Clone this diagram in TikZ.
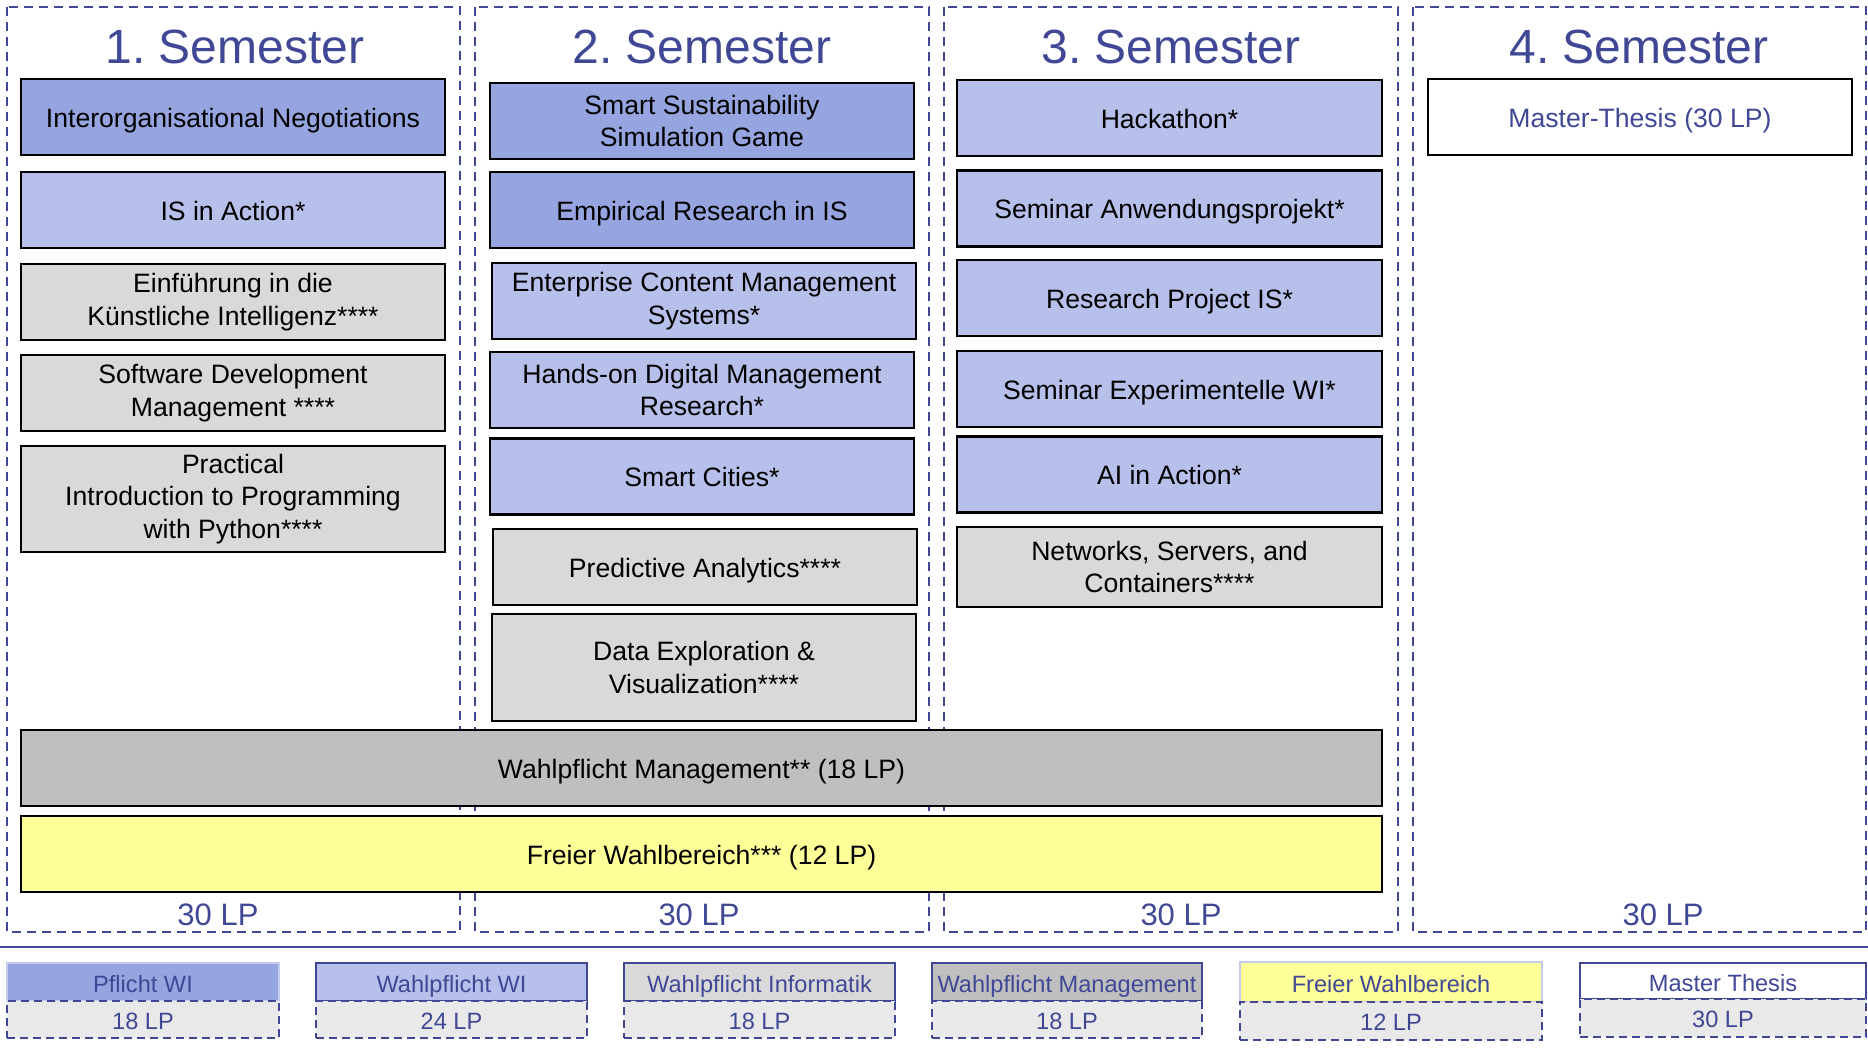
\documentclass[tikz,border=0pt]{standalone}
\usepackage{fontspec}
\setmainfont{Liberation Sans}
\frenchspacing
\definecolor{pblue}{HTML}{96A5E0}
\definecolor{wblue}{HTML}{B6C0EA}
\definecolor{igray}{HTML}{D9D9D9}
\definecolor{mgray}{HTML}{BFBFBF}
\definecolor{fyellow}{HTML}{FFFF99}
\definecolor{tblue}{HTML}{404896}
\definecolor{lgray}{HTML}{E9E9E9}
\definecolor{pborder}{HTML}{C4CCEE}
\newcommand\coursefont{\fontsize{13.3pt}{16.4pt}\selectfont}
\newcommand\titlefont{\fontsize{24pt}{28pt}\selectfont}
\newcommand\lpfont{\fontsize{15.5pt}{18pt}\selectfont}
\newcommand\legfont{\fontsize{11.8pt}{14pt}\selectfont}
\tikzset{
  semframe/.style={draw=tblue, line width=1pt, dash pattern=on 4.5pt off 3pt},
  course/.style={draw=black, line width=1.1pt, inner sep=0pt, align=center,
    font=\coursefont, text=black, minimum width=212pt, minimum height=38pt},
  oneline/.style={text height=10.2pt, text depth=0pt},
  pflicht/.style={course, fill=pblue},
  wahlwi/.style={course, fill=wblue},
  inform/.style={course, fill=igray},
  semtitle/.style={font=\titlefont, text=tblue, anchor=base, inner sep=0pt},
  lplabel/.style={font=\lpfont, text=tblue, anchor=base, inner sep=0pt},
  legtop/.style={draw=tblue, line width=0.9pt, inner sep=0pt, font=\legfont,
    text=tblue, minimum width=136pt, minimum height=19pt, text height=10.5pt, text depth=0pt},
  legbot/.style={draw=tblue, fill=lgray, line width=0.9pt, dash pattern=on 4pt off 2.5pt,
    inner sep=0pt, font=\legfont, text=tblue, minimum width=136pt, minimum height=18.5pt,
    text height=9.5pt, text depth=0pt},
}
\begin{document}
\begin{tikzpicture}[x=0.5pt, y=-0.5pt]
\useasboundingbox (0,0) rectangle (1868,1049);
% semester frames
\draw[semframe] (7,7) rectangle (460,932);
\draw[semframe] (475,7) rectangle (929,932);
\draw[semframe] (944,7) rectangle (1398,932);
\draw[semframe] (1413,7) rectangle (1866,932);
% titles
\node[semtitle] (t1) at (235,63) {1. Semester};
\node[semtitle] (t2) at (702,63) {2. Semester};
\node[semtitle] (t3) at (1171,63) {3. Semester};
\node[semtitle] (t4) at (1639,63) {4. Semester};
% column 1
\node[pflicht, oneline] (c11) at (233,117) {Interorganisational Negotiations};
\node[wahlwi, oneline] (c12) at (233,210) {IS in Action*};
\node[inform] (c13) at (233,302) {Einführung in die\\Künstliche Intelligenz****};
\node[inform] (c14) at (233,393) {Software Development\\Management ****};
\node[inform, minimum height=53pt] (c15) at (233,499) {Practical\\Introduction to Programming\\with Python****};
% column 2
\node[pflicht] (c21) at (702,121) {Smart Sustainability\\Simulation Game};
\node[pflicht, oneline] (c22) at (702,210) {Empirical Research in IS};
\node[wahlwi] (c23) at (704,301) {Enterprise Content Management\\Systems*};
\node[wahlwi] (c24) at (702,390) {Hands-on Digital Management\\Research*};
\node[wahlwi, oneline] (c25) at (702,476.5) {Smart Cities*};
\node[inform, oneline] (c26) at (705,567) {Predictive Analytics****};
\node[inform, minimum height=53.5pt] (c27) at (704,667.5) {Data Exploration \&\\Visualization****};
% column 3
\node[wahlwi, oneline, minimum width=212.5pt] (c31) at (1169.5,118) {Hackathon*};
\node[wahlwi, oneline, minimum width=212.5pt] (c32) at (1169.5,208.5) {Seminar Anwendungsprojekt*};
\node[wahlwi, oneline, minimum width=212.5pt] (c33) at (1169.5,298) {Research Project IS*};
\node[wahlwi, oneline, minimum width=212.5pt] (c34) at (1169.5,389) {Seminar Experimentelle WI*};
\node[wahlwi, oneline, minimum width=212.5pt] (c35) at (1169.5,474.5) {AI in Action*};
\node[inform, minimum width=212.5pt, minimum height=40pt] (c36) at (1169.5,567) {Networks, Servers, and\\Containers****};
% column 4
\node[course, oneline, fill=white, text=tblue] (c41) at (1640,117) {Master-Thesis (30 LP)};
% bars
\node[course, oneline, fill=mgray, minimum width=680.5pt] (wpm) at (701.5,768) {Wahlpflicht Management** (18 LP)};
\node[course, oneline, fill=fyellow, minimum width=680.5pt] (fwb) at (701.5,854) {Freier Wahlbereich*** (12 LP)};
% LP labels
\node[lplabel] (lp1) at (218,925) {30 LP};
\node[lplabel] (lp2) at (699,925) {30 LP};
\node[lplabel] (lp3) at (1181,925) {30 LP};
\node[lplabel] (lp4) at (1663,925) {30 LP};
% separator
\coordinate (sepL) at (0,947);
\coordinate (sepR) at (1868,947);
\draw[tblue, line width=1.1pt] (sepL) -- (sepR);
% legend
\node[legtop, fill=pblue, draw=pborder] (l1t) at (143,982) {Pflicht WI};
\node[legbot] (l1b) at (143,1019.5) {18 LP};
\node[legtop, fill=wblue, minimum width=135.5pt] (l2t) at (451.5,982) {Wahlpflicht WI};
\node[legbot, minimum width=135.5pt] (l2b) at (451.5,1019.5) {24 LP};
\node[legtop, fill=igray, minimum width=135.5pt] (l3t) at (759.5,982) {Wahlpflicht Informatik};
\node[legbot, minimum width=135.5pt] (l3b) at (759.5,1019.5) {18 LP};
\node[legtop, fill=mgray, minimum width=135pt] (l4t) at (1067,982) {Wahlpflicht Management};
\node[legbot, minimum width=135pt] (l4b) at (1067,1019.5) {18 LP};
\node[legtop, fill=fyellow, draw=pborder, minimum width=151pt, minimum height=20pt] (l5t) at (1391,982) {Freier Wahlbereich};
\node[legbot, minimum width=151pt, minimum height=19pt] (l5b) at (1391,1021) {12 LP};
\node[legtop, fill=white, minimum width=143pt, minimum height=18pt] (l6t) at (1723,981) {Master Thesis};
\node[legbot, minimum width=143pt, minimum height=19pt] (l6b) at (1723,1018) {30 LP};
\end{tikzpicture}
\end{document}
